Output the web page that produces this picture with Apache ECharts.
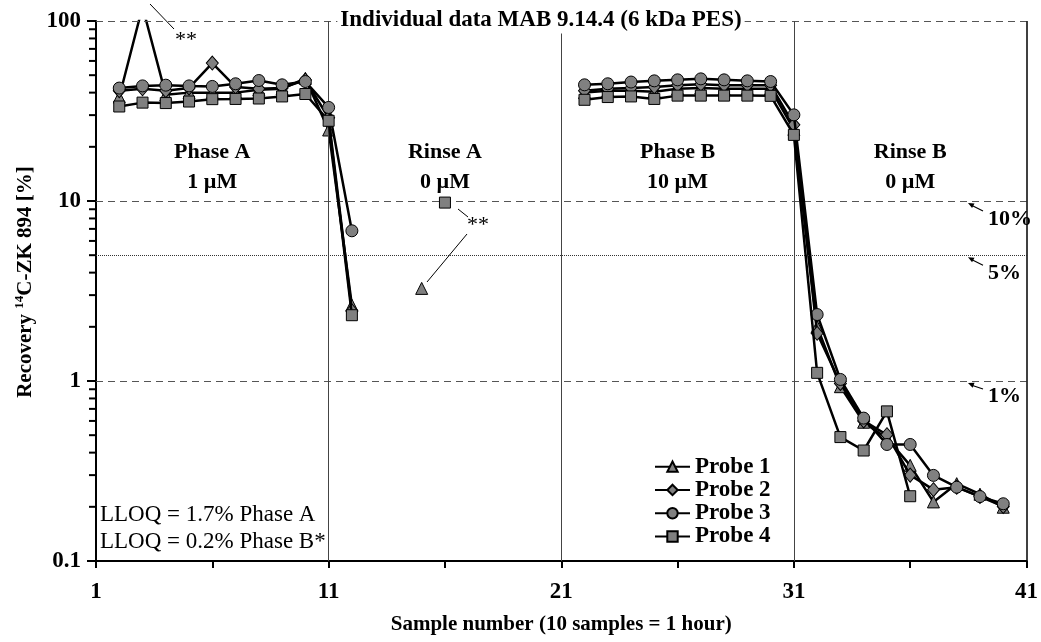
<!DOCTYPE html>
<html>
<head>
<meta charset="utf-8">
<script src="https://cdn.jsdelivr.net/npm/echarts@6/dist/echarts.min.js"></script>
<style>html,body{margin:0;padding:0;background:#fff;}#chart{width:1041px;height:642px;}</style>
</head>
<body>
<div id="chart"></div>
<script>
// ---- data ----
const seriesNames = ['Probe 1', 'Probe 2', 'Probe 3', 'Probe 4'];
const samplesPhaseA = [2, 3, 4, 5, 6, 7, 8, 9, 10, 11, 12];
const samplesRinseA = [15, 16];
const samplesPhaseB = [22, 23, 24, 25, 26, 27, 28, 29, 30, 31, 32, 33, 34, 35, 36, 37, 38, 39, 40];

const probe1PhaseA = [37.8, 120, 38.9, 40, 40, 40, 41.5, 42, 48, 24.8, 2.64];
const probe2PhaseA = [41, 42, 41, 42.5, 58.4, 43, 42, 42.5, 47, 29, 2.45];
const probe3PhaseA = [42.4, 43.6, 44.0, 43.6, 43.3, 44.8, 46.7, 44.2, 46.1, 33.1, 6.83];
const probe4PhaseA = [33.5, 35.2, 35.0, 35.7, 36.8, 36.9, 37.1, 38.1, 39.3, 27.9, 2.32];

const probe1RinseA = [3.27, null];
const probe2RinseA = [null, null];
const probe3RinseA = [null, null];
const probe4RinseA = [null, 9.8];

const probe1PhaseB = [40, 41, 41, 40.5, 42, 42.5, 42, 42, 42, 25, 2.0, 0.93, 0.59, 0.48, 0.34, 0.213, 0.269, 0.235, 0.199];
const probe2PhaseB = [41, 42, 42.5, 43, 44, 44.5, 44, 44, 44, 26.5, 1.84, 0.97, 0.60, 0.503, 0.30, 0.249, 0.257, 0.228, 0.201];
const probe3PhaseB = [44.2, 44.8, 45.8, 46.5, 47.1, 47.7, 47.1, 46.5, 46.1, 30.1, 2.34, 1.02, 0.622, 0.444, 0.444, 0.299, 0.257, 0.228, 0.208];
const probe4PhaseB = [36.5, 37.8, 38.1, 36.9, 38.5, 38.5, 38.5, 38.5, 38.4, 23.3, 1.11, 0.488, 0.411, 0.678, 0.229, null, null, null, null];

const yTickLabels = ['0.1', '1', '10', '100'];
const xTickLabels = ['1', '11', '21', '31', '41'];
const phaseLabels = ['Phase A\n1 µM', 'Rinse A\n0 µM', 'Phase B\n10 µM', 'Rinse B\n0 µM'];
const phaseLabelSamples = [6, 16, 26, 36];
const refLineValues = [100, 10, 5, 1];
const refLineLabels = ['10%', '5%', '1%'];
const phaseBoundarySamples = [11, 21, 31];
const titleText = 'Individual data MAB 9.14.4 (6 kDa PES)';
const lloqLines = ['LLOQ = 1.7% Phase A', 'LLOQ = 0.2% Phase B*'];

// ---- build ----
const FONT = "'Liberation Serif', 'Times New Roman', serif";
function buildSeriesData(segVals) {
  const segs = [samplesPhaseA, samplesRinseA, samplesPhaseB];
  const out = [];
  segs.forEach((xs, si) => {
    xs.forEach((x, i) => out.push([x, segVals[si][i]]));
    if (si < segs.length - 1) out.push([xs[xs.length - 1] + 1, null]);
  });
  return out;
}
const probeData = [
  buildSeriesData([probe1PhaseA, probe1RinseA, probe1PhaseB]),
  buildSeriesData([probe2PhaseA, probe2RinseA, probe2PhaseB]),
  buildSeriesData([probe3PhaseA, probe3RinseA, probe3PhaseB]),
  buildSeriesData([probe4PhaseA, probe4RinseA, probe4PhaseB])
];
const symbols = ['triangle', 'diamond', 'circle', 'rect'];
const symbolSizes = [12, [12, 14], 12, 11];

const minorTicks = [];
[0.1, 1, 10].forEach(d => { for (let k = 2; k <= 9; k++) minorTicks.push([1, +(d * k).toPrecision(3)]); });

const chart = echarts.init(document.getElementById('chart'), null, { renderer: 'canvas' });

const probeSeries = seriesNames.map((name, i) => ({
  name: name,
  type: 'line',
  data: probeData[i],
  xAxisIndex: 0,
  yAxisIndex: 0,
  symbol: symbols[i],
  symbolSize: symbolSizes[i],
  showAllSymbol: true,
  connectNulls: false,
  clip: true,
  z: 3 + i,
  lineStyle: { color: '#000', width: 2.5 },
  itemStyle: { color: '#808080', borderColor: '#000', borderWidth: 1 },
  emphasis: { disabled: true },
  animation: false
}));

const option = {
  animation: false,
  backgroundColor: '#fff',
  textStyle: { fontFamily: FONT },
  grid: { left: 96, right: 14, top: 21, bottom: 81, containLabel: false },
  legend: {
    data: seriesNames,
    orient: 'vertical',
    left: 654,
    top: 455,
    padding: 0,
    itemWidth: 35,
    itemHeight: 13,
    itemGap: 0,
    textStyle: { fontFamily: FONT, fontSize: 23, fontWeight: 'bold', color: '#000', lineHeight: 23.3 },
    selectedMode: false
  },
  xAxis: [
    { type: 'value', min: 1, max: 41, show: false, position: 'bottom' },
    {
      type: 'value', min: 0, max: 40, interval: 5, position: 'bottom', offset: 0,
      name: 'Sample number (10 samples = 1 hour)',
      nameLocation: 'middle', nameGap: 53,
      nameTextStyle: { fontFamily: FONT, fontSize: 21, fontWeight: 'bold', color: '#000' },
      axisLine: { lineStyle: { color: '#000', width: 2 } },
      axisTick: { length: 7, lineStyle: { color: '#000', width: 2 } },
      splitLine: { show: false },
      axisLabel: {
        margin: 20, fontFamily: FONT, fontSize: 23, fontWeight: 'bold', color: '#000',
        formatter: v => (v % 10 === 0 ? xTickLabels[v / 10] : '')
      }
    }
  ],
  yAxis: {
    type: 'log', logBase: 10, min: 0.1, max: 100,
    name: 'Recovery {sup|14}C-ZK 894 [%]',
    nameLocation: 'middle', nameGap: 58, nameRotate: 90,
    nameTextStyle: {
      fontFamily: FONT, fontSize: 21, fontWeight: 'bold', color: '#000', padding: [0, 0, 0, 18],
      rich: { sup: { fontFamily: FONT, fontSize: 13, fontWeight: 'bold', color: '#000', verticalAlign: 'top', lineHeight: 24 } }
    },
    axisLine: { lineStyle: { color: '#000', width: 2 } },
    axisTick: { length: 9, lineStyle: { color: '#000', width: 2 } },
    splitLine: { show: false },
    axisLabel: {
      margin: 15, fontFamily: FONT, fontSize: 23, fontWeight: 'bold', color: '#000',
      formatter: v => { const idx = Math.round(Math.log10(v)) + 1; return yTickLabels[idx] || ''; }
    }
  },
  series: [
    {
      type: 'line', name: 'refs', data: [[1, null]], xAxisIndex: 0, yAxisIndex: 0, z: 1,
      silent: true, symbol: 'none', legendHoverLink: false,
      markLine: {
        silent: true, symbol: 'none', animation: false, label: { show: false },
        data: [
          { yAxis: refLineValues[0], lineStyle: { color: '#555', width: 1, type: [7, 5] } },
          { yAxis: refLineValues[1], lineStyle: { color: '#555', width: 1, type: [7, 5] } },
          { yAxis: refLineValues[2], lineStyle: { color: '#333', width: 1, type: [1, 1] } },
          { yAxis: refLineValues[3], lineStyle: { color: '#555', width: 1, type: [7, 5] } },
          { xAxis: phaseBoundarySamples[0], lineStyle: { color: '#444', width: 1, type: 'solid' } },
          { xAxis: phaseBoundarySamples[1], lineStyle: { color: '#444', width: 1, type: 'solid' } },
          { xAxis: phaseBoundarySamples[2], lineStyle: { color: '#444', width: 1, type: 'solid' } },
          { xAxis: 41, lineStyle: { color: '#000', width: 1.5, type: 'solid' } }
        ]
      }
    },
    {
      type: 'custom', name: 'minorTicks', data: minorTicks, xAxisIndex: 0, yAxisIndex: 0, z: 2, silent: true,
      renderItem: (params, api) => {
        const p = api.coord([api.value(0), api.value(1)]);
        return { type: 'line', shape: { x1: p[0] - 7, y1: p[1], x2: p[0], y2: p[1] }, style: { stroke: '#000', lineWidth: 2 } };
      }
    }
  ].concat(probeSeries)
};
chart.setOption(option);

// ---- annotations anchored through the axes ----
const px = (x, y) => chart.convertToPixel({ xAxisIndex: 0, yAxisIndex: 0 }, [x, y]);
const graphics = [];
const bold22 = { fontFamily: FONT, fontSize: 22, fontWeight: 'bold', fill: '#000' };
const bold23 = { fontFamily: FONT, fontSize: 23, fontWeight: 'bold', fill: '#000' };

// title with white background over the top dashed line
const topY = px(1, refLineValues[0])[1];
graphics.push({
  type: 'text', x: 541, y: topY - 1, z: 50,
  style: Object.assign({ text: titleText, align: 'center', verticalAlign: 'middle', backgroundColor: '#fff', padding: [2, 3] }, bold23)
});

// phase labels
phaseLabels.forEach((t, i) => {
  const p = px(phaseLabelSamples[i], 18);
  graphics.push({
    type: 'text', x: p[0], y: 167, z: 50,
    style: Object.assign({ text: t, align: 'center', verticalAlign: 'middle', lineHeight: 30 }, bold22)
  });
});

// percent labels with arrows
refLineValues.slice(1).forEach((v, i) => {
  const p = px(41, v);
  const ly = p[1];
  const dy = (i === 2) ? 15 : 18;
  graphics.push({
    type: 'text', x: 988, y: ly + dy, z: 50,
    style: Object.assign({ text: refLineLabels[i], align: 'left', verticalAlign: 'middle' }, bold22)
  });
  const x1 = 983, y1 = ly + (i === 2 ? 8 : 10), x2 = 968, y2 = ly + 2;
  graphics.push({ type: 'line', z: 50, shape: { x1: x1, y1: y1, x2: x2 + 3, y2: y2 + 2 }, style: { stroke: '#000', lineWidth: 1.2 } });
  const ang = Math.atan2(y2 - y1, x2 - x1);
  const hl = 6, hw = 2.6;
  const bx = x2 - hl * Math.cos(ang), by = y2 - hl * Math.sin(ang);
  graphics.push({
    type: 'polygon', z: 50,
    shape: { points: [[x2, y2], [bx + hw * Math.sin(ang), by - hw * Math.cos(ang)], [bx - hw * Math.sin(ang), by + hw * Math.cos(ang)]] },
    style: { fill: '#000' }
  });
});

// ** annotations
const reg22 = { fontFamily: FONT, fontSize: 22, fill: '#000' };
graphics.push({ type: 'text', x: 186, y: 40, z: 50, style: Object.assign({ text: '**', align: 'center', verticalAlign: 'middle' }, reg22) });
graphics.push({ type: 'line', z: 50, shape: { x1: 150, y1: 4, x2: 174, y2: 29 }, style: { stroke: '#000', lineWidth: 1 } });
graphics.push({ type: 'text', x: 478, y: 225, z: 50, style: Object.assign({ text: '**', align: 'center', verticalAlign: 'middle' }, reg22) });
graphics.push({ type: 'line', z: 50, shape: { x1: 458, y1: 209, x2: 468, y2: 217 }, style: { stroke: '#000', lineWidth: 1 } });
graphics.push({ type: 'line', z: 50, shape: { x1: 467, y1: 234, x2: 427, y2: 282 }, style: { stroke: '#000', lineWidth: 1 } });

// LLOQ text
lloqLines.forEach((t, i) => {
  graphics.push({
    type: 'text', x: 100, y: 515 + i * 27, z: 50,
    style: { text: t, fontFamily: FONT, fontSize: 23, fill: '#000', align: 'left', verticalAlign: 'middle' }
  });
});

chart.setOption({ graphic: { elements: graphics } });
</script>
</body>
</html>
